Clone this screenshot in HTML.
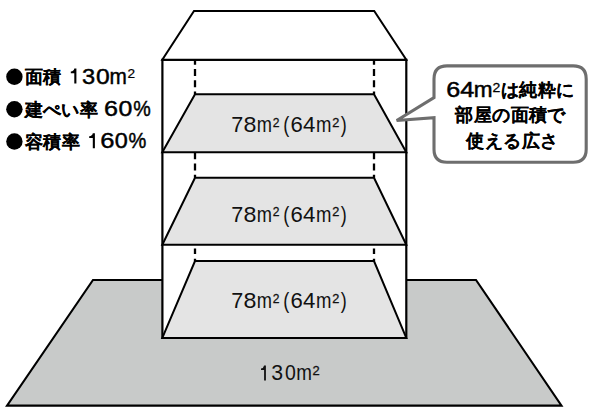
<!DOCTYPE html>
<html><head><meta charset="utf-8">
<style>
html,body{margin:0;padding:0;background:#fff;width:600px;height:419px;overflow:hidden}
svg{display:block}
text{font-family:"Liberation Sans",sans-serif}
</style></head><body>
<svg width="600" height="419" viewBox="0 0 600 419">
<polygon points="93,280 476,280 561.5,405.6 7,405.6" fill="#c8cac9" stroke="#000" stroke-width="2.1"/>
<rect x="162.4" y="59.8" width="243.9" height="278.1" fill="#fff" stroke="#000" stroke-width="2.2"/>
<polygon points="194,10.9 374.2,10.9 406.3,59.8 162.3,59.8" fill="#fff" stroke="#000" stroke-width="2.0"/>
<g fill="#e4e4e4" stroke="#000" stroke-width="2.0">
<polygon points="195,94.3 374,94.3 406.3,152.2 162.3,152.2"/>
<polygon points="195,177.8 374,177.8 406.3,244.8 162.3,244.8"/>
<polygon points="195,261.1 374,261.1 406.3,337.9 162.3,337.9"/>
</g>
<g stroke="#000" stroke-width="2.3" stroke-dasharray="7 4.3">
<line x1="195" y1="59.8" x2="195" y2="94.3" stroke-dashoffset="2.1"/>
<line x1="374" y1="59.8" x2="374" y2="94.3" stroke-dashoffset="2.1"/>
<line x1="195" y1="152.2" x2="195" y2="177.8"/>
<line x1="374" y1="152.2" x2="374" y2="177.8"/>
<line x1="195" y1="248.4" x2="195" y2="261.1" stroke-dasharray="5.7 4.7"/>
<line x1="374" y1="248.4" x2="374" y2="261.1" stroke-dasharray="5.7 4.7"/>
</g>
<path d="M447,65.9 H573.2 Q586.2,65.9 586.2,78.9 V149.2 Q586.2,162.2 573.2,162.2 H447 Q434,162.2 434,149.2 V117.7 L396.7,120.5 L434,97.6 V78.9 Q434,65.9 447,65.9 Z" fill="#fff" stroke="#6e6e6e" stroke-width="3.1"/>
<text transform="translate(231.14,132.3) scale(0.980,1)" font-size="22" fill="#111">7</text>
<text transform="translate(243.54,132.3) scale(1.056,1)" font-size="22" fill="#111">8</text>
<text transform="translate(256.74,132.3) scale(0.830,1)" font-size="22" fill="#111">m</text>
<text transform="translate(272.64,127.0) scale(0.969,1)" font-size="12.46" fill="#111" stroke="#111" stroke-width="0.3">2</text>
<text transform="translate(283.13,132.3) scale(0.823,1)" font-size="22" fill="#111">(</text>
<text transform="translate(290.43,132.3) scale(1.005,1)" font-size="22" fill="#111">6</text>
<text transform="translate(303.04,132.3) scale(1.010,1)" font-size="22" fill="#111">4</text>
<text transform="translate(316.02,132.3) scale(0.843,1)" font-size="22" fill="#111">m</text>
<text transform="translate(332.31,127.0) scale(1.022,1)" font-size="12.46" fill="#111" stroke="#111" stroke-width="0.3">2</text>
<text transform="translate(340.70,132.3) scale(0.820,1)" font-size="22" fill="#111">)</text>
<text transform="translate(231.14,221.6) scale(0.980,1)" font-size="22" fill="#111">7</text>
<text transform="translate(243.54,221.6) scale(1.056,1)" font-size="22" fill="#111">8</text>
<text transform="translate(256.74,221.6) scale(0.830,1)" font-size="22" fill="#111">m</text>
<text transform="translate(272.64,216.3) scale(0.969,1)" font-size="12.46" fill="#111" stroke="#111" stroke-width="0.3">2</text>
<text transform="translate(283.13,221.6) scale(0.823,1)" font-size="22" fill="#111">(</text>
<text transform="translate(290.43,221.6) scale(1.005,1)" font-size="22" fill="#111">6</text>
<text transform="translate(303.04,221.6) scale(1.010,1)" font-size="22" fill="#111">4</text>
<text transform="translate(316.02,221.6) scale(0.843,1)" font-size="22" fill="#111">m</text>
<text transform="translate(332.31,216.3) scale(1.022,1)" font-size="12.46" fill="#111" stroke="#111" stroke-width="0.3">2</text>
<text transform="translate(340.70,221.6) scale(0.820,1)" font-size="22" fill="#111">)</text>
<text transform="translate(231.14,308.2) scale(0.980,1)" font-size="22" fill="#111">7</text>
<text transform="translate(243.54,308.2) scale(1.056,1)" font-size="22" fill="#111">8</text>
<text transform="translate(256.74,308.2) scale(0.830,1)" font-size="22" fill="#111">m</text>
<text transform="translate(272.64,302.9) scale(0.969,1)" font-size="12.46" fill="#111" stroke="#111" stroke-width="0.3">2</text>
<text transform="translate(283.13,308.2) scale(0.823,1)" font-size="22" fill="#111">(</text>
<text transform="translate(290.43,308.2) scale(1.005,1)" font-size="22" fill="#111">6</text>
<text transform="translate(303.04,308.2) scale(1.010,1)" font-size="22" fill="#111">4</text>
<text transform="translate(316.02,308.2) scale(0.843,1)" font-size="22" fill="#111">m</text>
<text transform="translate(332.31,302.9) scale(1.022,1)" font-size="12.46" fill="#111" stroke="#111" stroke-width="0.3">2</text>
<text transform="translate(340.70,308.2) scale(0.820,1)" font-size="22" fill="#111">)</text>
<path d="M265.90,365.40 V380.40 H264.10 V370.12 H261.00 V368.40 Q263.70,367.95 264.10,365.40 Z" fill="#111"/>
<text transform="translate(271.34,380.4) scale(0.968,1)" font-size="22" fill="#111">3</text>
<text transform="translate(285.09,380.4) scale(0.884,1)" font-size="22" fill="#111">0</text>
<text transform="translate(296.20,380.4) scale(0.856,1)" font-size="22" fill="#111">m</text>
<text transform="translate(312.50,375.1) scale(1.039,1)" font-size="12.46" fill="#111" stroke="#111" stroke-width="0.3">2</text>
<g fill="#000">
<circle cx="14.4" cy="76.75" r="8.2"/>
<circle cx="14.4" cy="109.2" r="8.2"/>
<circle cx="14.4" cy="141.5" r="8.2"/>
</g>
<g font-size="17.6" font-weight="bold" fill="#000" stroke="#000" stroke-width="0.05">
<text x="24.5 42.9" y="82.8">面積</text>
<text x="24.5 42.9 61.3 79.7" y="115.5">建ぺい率</text>
<text x="25.0 43.4 61.8" y="147.7">容積率</text>
</g>
<path d="M76.40,68.60 V83.60 H74.30 V73.32 H70.80 V71.60 Q73.90,71.15 74.30,68.60 Z" fill="#000"/>
<text transform="translate(81.95,83.6) scale(1.074,1)" font-size="22" fill="#000" stroke="#000" stroke-width="0.45">3</text>
<text transform="translate(95.89,83.6) scale(1.122,1)" font-size="22" fill="#000" stroke="#000" stroke-width="0.45">0</text>
<text transform="translate(109.57,83.6) scale(0.947,1)" font-size="22" fill="#000" stroke="#000" stroke-width="0.45">m</text>
<text transform="translate(127.57,78.0) scale(1.092,1)" font-size="12.46" fill="#000" stroke="#000" stroke-width="0.25">2</text>
<text transform="translate(104.07,115.8) scale(1.143,1)" font-size="22" fill="#000" stroke="#000" stroke-width="0.45">6</text>
<text transform="translate(118.48,115.8) scale(1.132,1)" font-size="22" fill="#000" stroke="#000" stroke-width="0.45">0</text>
<text transform="translate(133.25,115.8) scale(0.895,1)" font-size="22" fill="#000" stroke="#000" stroke-width="0.45">%</text>
<path d="M94.90,133.30 V148.30 H92.80 V138.03 H89.20 V136.30 Q92.40,135.85 92.80,133.30 Z" fill="#000"/>
<text transform="translate(100.15,148.3) scale(1.162,1)" font-size="22" fill="#000" stroke="#000" stroke-width="0.45">6</text>
<text transform="translate(114.63,148.3) scale(1.065,1)" font-size="22" fill="#000" stroke="#000" stroke-width="0.45">0</text>
<text transform="translate(128.44,148.3) scale(0.911,1)" font-size="22" fill="#000" stroke="#000" stroke-width="0.45">%</text>
<text transform="translate(446.37,96.8) scale(1.143,1)" font-size="22" fill="#000" stroke="#000" stroke-width="0.5">6</text>
<text transform="translate(460.27,96.8) scale(1.146,1)" font-size="22" fill="#000" stroke="#000" stroke-width="0.5">4</text>
<text transform="translate(473.65,96.8) scale(1.025,1)" font-size="22" fill="#000" stroke="#000" stroke-width="0.5">m</text>
<text transform="translate(492.44,91.5) scale(1.066,1)" font-size="13.18" fill="#000" stroke="#000" stroke-width="0.28">2</text>
<g font-size="17.6" font-weight="bold" fill="#000" stroke="#000" stroke-width="0.05">
<text x="500.8 519.2 537.6 556.0" y="96">は純粋に</text>
<text x="455.4 473.8 492.2 510.6 529.0 547.4" y="121.1">部屋の面積で</text>
<text x="466.4 484.8 503.2 521.6 540.0" y="147.2">使える広さ</text>
</g>
</svg>
</body></html>
